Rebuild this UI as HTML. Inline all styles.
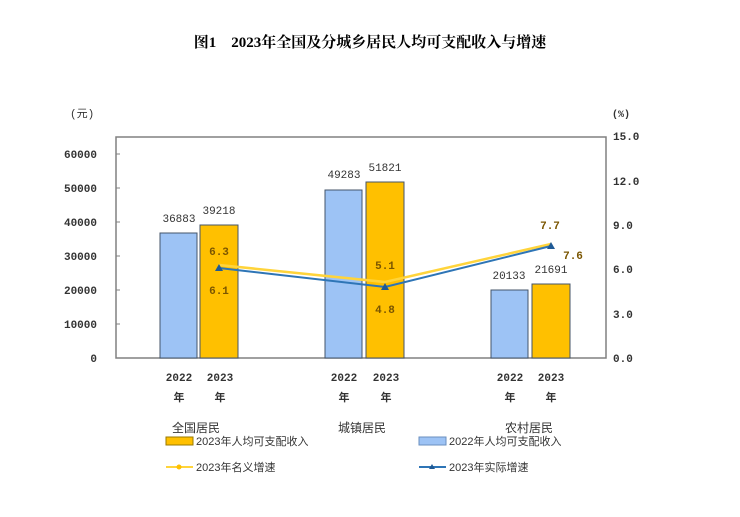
<!DOCTYPE html>
<html><head><meta charset="utf-8"><style>
body{margin:0;background:#fff;width:740px;height:512px;overflow:hidden}
</style></head><body>
<svg width="740" height="512" xmlns="http://www.w3.org/2000/svg" font-family="'Liberation Mono','Noto Sans CJK SC',monospace">
<text x="370" y="47" text-anchor="middle" font-family="'Liberation Serif','Noto Serif CJK SC',serif" font-weight="bold" font-size="15">图1　2023年全国及分城乡居民人均可支配收入与增速</text>
<rect x="116" y="137" width="490" height="221" fill="none" stroke="#808080" stroke-width="1.5"/>
<g font-size="11" fill="#333" text-anchor="end" font-weight="bold">
<text x="97" y="362">0</text><text x="97" y="328">10000</text><text x="97" y="294">20000</text><text x="97" y="260">30000</text><text x="97" y="226">40000</text><text x="97" y="192">50000</text><text x="97" y="158">60000</text>
</g>
<g font-size="11" fill="#333" font-weight="bold">
<text x="613" y="362">0.0</text><text x="613" y="318">3.0</text><text x="613" y="273">6.0</text><text x="613" y="229">9.0</text><text x="613" y="185">12.0</text><text x="613" y="140">15.0</text>
<text x="612" y="117" font-size="10">(%)</text>
</g>
<text x="70" y="117" font-size="11" fill="#333">(元)</text>
<g stroke="#808080"><line x1="116" y1="154" x2="120" y2="154"/><line x1="116" y1="188" x2="120" y2="188"/><line x1="116" y1="222" x2="120" y2="222"/><line x1="116" y1="256" x2="120" y2="256"/><line x1="116" y1="290" x2="120" y2="290"/><line x1="116" y1="324" x2="120" y2="324"/></g>
<g stroke="#44546a" stroke-width="1">
<rect x="160" y="233" width="37" height="125" fill="#9dc3f5"/>
<rect x="200" y="225" width="38" height="133" fill="#ffc000"/>
<rect x="325" y="190" width="37" height="168" fill="#9dc3f5"/>
<rect x="366" y="182" width="38" height="176" fill="#ffc000"/>
<rect x="491" y="290" width="37" height="68" fill="#9dc3f5"/>
<rect x="532" y="284" width="38" height="74" fill="#ffc000"/>
</g>
<g font-size="11" fill="#333" text-anchor="middle">
<text x="179" y="222">36883</text><text x="219" y="214">39218</text>
<text x="344" y="178">49283</text><text x="385" y="171">51821</text>
<text x="509" y="279">20133</text><text x="551" y="273">21691</text>
</g>
<polyline points="219,265 385,282 551,244" fill="none" stroke="#ffd43b" stroke-width="2.5"/>
<polyline points="219,268 385,287 551,246" fill="none" stroke="#2e75b6" stroke-width="2"/>
<g fill="#1f5a96"><polygon points="219,264 223,271 215,271"/><polygon points="385,283 389,290 381,290"/><polygon points="551,242 555,249 547,249"/></g>
<g font-size="11" fill="#7a5500" text-anchor="middle" font-weight="bold">
<text x="219" y="255">6.3</text><text x="219" y="294">6.1</text>
<text x="385" y="269">5.1</text><text x="385" y="313">4.8</text>
<text x="550" y="229">7.7</text><text x="573" y="259">7.6</text>
</g>
<g font-size="11" fill="#333" text-anchor="middle" font-weight="bold">
<text x="179" y="381">2022</text><text x="220" y="381">2023</text>
<text x="344" y="381">2022</text><text x="386" y="381">2023</text>
<text x="510" y="381">2022</text><text x="551" y="381">2023</text>
<text x="179" y="401">年</text><text x="220" y="401">年</text>
<text x="344" y="401">年</text><text x="386" y="401">年</text>
<text x="510" y="401">年</text><text x="551" y="401">年</text>
</g>
<g font-size="12" fill="#333" font-family="'Liberation Sans','Noto Sans CJK SC',sans-serif">
<text x="172" y="432">全国居民</text><text x="338" y="432">城镇居民</text><text x="505" y="432">农村居民</text>
</g>
<g font-size="11" fill="#333" font-family="'Liberation Sans','Noto Sans CJK SC',sans-serif">
<rect x="166" y="437" width="27" height="8" fill="#ffc000" stroke="#9a7a00"/>
<text x="196" y="445">2023年人均可支配收入</text>
<rect x="419" y="437" width="27" height="8" fill="#9dc3f5" stroke="#6a8fbf"/>
<text x="449" y="445">2022年人均可支配收入</text>
<line x1="166" y1="467" x2="193" y2="467" stroke="#ffd43b" stroke-width="2"/><circle cx="179" cy="467" r="2.5" fill="#ffc000"/>
<text x="196" y="471">2023年名义增速</text>
<line x1="419" y1="467" x2="446" y2="467" stroke="#2e75b6" stroke-width="2"/><polygon points="432,464 435,469 429,469" fill="#1f5a96"/>
<text x="449" y="471">2023年实际增速</text>
</g>
</svg>
</body></html>
